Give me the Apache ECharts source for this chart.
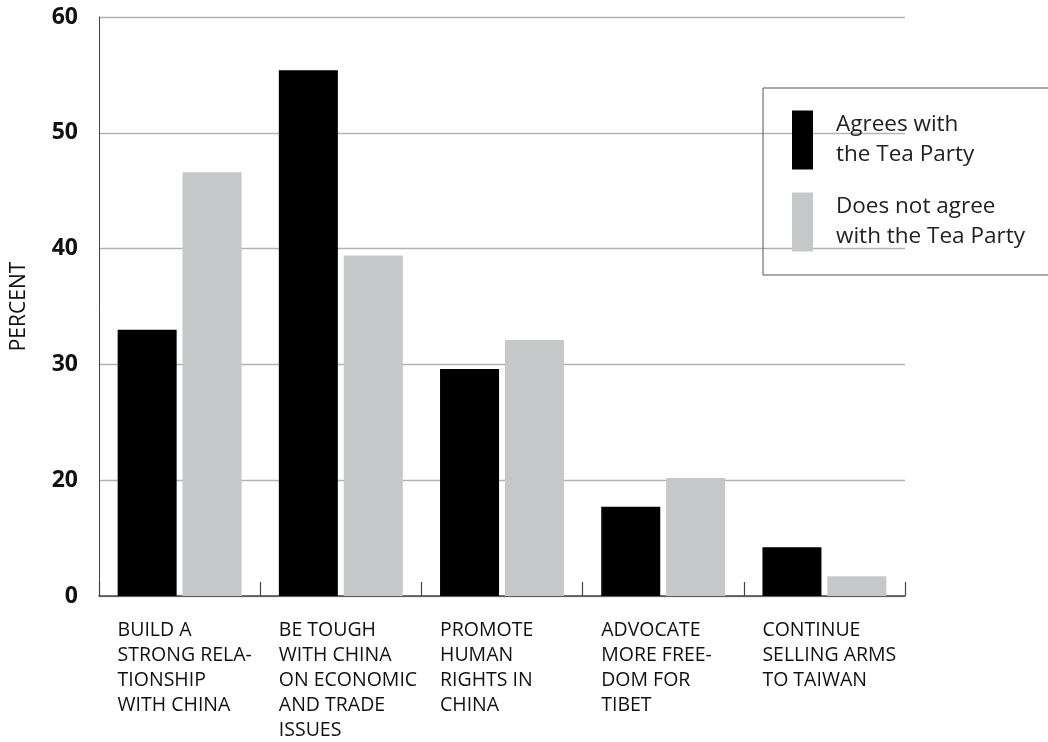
<!DOCTYPE html>
<html>
<head>
<meta charset="utf-8">
<script src="https://cdn.jsdelivr.net/npm/echarts@6/dist/echarts.min.js"></script>
<style>
html,body{margin:0;padding:0;background:#fff;}
#chart{width:1048px;height:742px;}
</style>
</head>
<body>
<div id="chart"></div>
<script>
// Categories (x axis)
const categories = [
  'BUILD A\nSTRONG RELA-\nTIONSHIP\nWITH CHINA',
  'BE TOUGH\nWITH CHINA\nON ECONOMIC\nAND TRADE\nISSUES',
  'PROMOTE\nHUMAN\nRIGHTS IN\nCHINA',
  'ADVOCATE\nMORE FREE-\nDOM FOR\nTIBET',
  'CONTINUE\nSELLING ARMS\nTO TAIWAN'
];
// Series names
const seriesNames = ['Agrees with\nthe Tea Party', 'Does not agree\nwith the Tea Party'];
// Values as read on the drawn (linear) scale; the bottom line sits at 10 and is labelled "0"
const agrees = [33.0, 55.4, 29.6, 17.7, 14.2];
const disagrees = [46.6, 39.4, 32.1, 20.2, 11.7];
// Tick values of the y axis and their printed labels
const yTicks = [10, 20, 30, 40, 50, 60];
const yTickLabels = ['0', '20', '30', '40', '50', '60'];

const FONT = 'Open Sans';
const chart = echarts.init(document.getElementById('chart'), null, {renderer: 'canvas'});
chart.setOption({
  backgroundColor: '#fff',
  animation: false,
  grid: {left: 99, right: 143, top: 17, bottom: 146, containLabel: false, outerBoundsMode: 'none'},
  legend: {
    orient: 'vertical',
    left: 763,
    top: 88,
    icon: 'rect',
    itemWidth: 21,
    itemHeight: 59,
    itemGap: 22,
    padding: [22, 80, 23, 29],
    borderColor: '#555',
    borderWidth: 1,
    selectedMode: false,
    textStyle: {fontFamily: FONT, fontSize: 22.5, lineHeight: 30, color: '#222', padding: [0, 0, 0, 18]},
    data: seriesNames
  },
  xAxis: {
    type: 'category',
    data: categories,
    axisLine: {lineStyle: {color: '#444', width: 1.5}},
    axisTick: {show: true, inside: true, length: 14, lineStyle: {color: '#444', width: 1.2}},
    axisLabel: {
      interval: 0,
      margin: 22,
      width: 124,
      formatter: function (v) { return '{a|' + v + '}'; },
      rich: {a: {align: 'left', fontFamily: FONT, fontSize: 19.5, lineHeight: 25, color: '#111'}}
    },
    splitLine: {show: false}
  },
  yAxis: {
    type: 'value',
    min: 10,
    max: 60,
    interval: 10,
    name: 'PERCENT',
    nameLocation: 'middle',
    nameGap: 69,
    nameTextStyle: {fontFamily: FONT, fontSize: 21, color: '#111'},
    axisLine: {show: true, lineStyle: {color: '#444', width: 1}},
    axisTick: {show: false},
    axisLabel: {
      margin: 21,
      fontFamily: FONT,
      fontWeight: 'bold',
      fontSize: 23,
      color: '#111',
      formatter: function (v) { const i = yTicks.indexOf(v); return i >= 0 ? yTickLabels[i] : ''; }
    },
    splitLine: {show: true, lineStyle: {color: '#b3b3b3', width: 1.3}}
  },
  series: [
    {name: seriesNames[0], type: 'bar', data: agrees, barWidth: 59, barGap: '10%', clip: true,
     itemStyle: {color: '#000'}},
    {name: seriesNames[1], type: 'bar', data: disagrees, barWidth: 59, barGap: '10%', clip: true,
     itemStyle: {color: '#c6c7c9'}}
  ]
});
</script>
</body>
</html>
